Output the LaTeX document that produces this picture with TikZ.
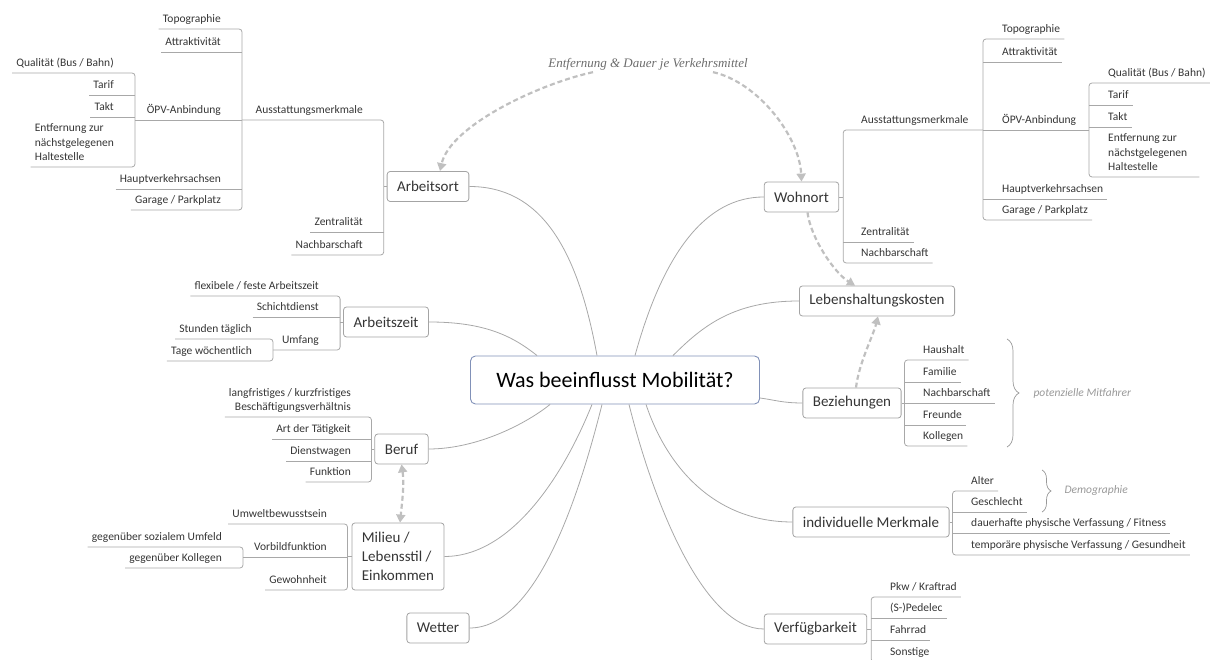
\documentclass[tikz,border=0pt]{standalone}
\usepackage{fontspec}
\setmainfont{Carlito}
\newfontfamily\notefont{Liberation Serif}
\usetikzlibrary{arrows.meta,decorations.pathreplacing}
\definecolor{linegray}{HTML}{A8A8A8}
\definecolor{boxgray}{HTML}{A4A4A4}
\definecolor{rootblue}{HTML}{8191B8}
\definecolor{relgray}{HTML}{C0C0C0}
\definecolor{notegray}{HTML}{999999}
\definecolor{textgray}{HTML}{353535}
\tikzset{
  root/.style={draw=rootblue, line width=0.9pt, rounded corners=5pt, fill=white,
    minimum width=289pt, minimum height=48pt, text=black,
    font=\fontsize{22}{26}\selectfont},
  topic/.style={draw=boxgray, line width=0.8pt, rounded corners=3pt, fill=white,
    inner xsep=10pt, minimum height=30pt, text=textgray,
    font=\fontsize{15}{19}\selectfont},
  sub/.style={inner xsep=4pt, inner ysep=0pt, text=textgray,
    font=\fontsize{11.5}{14.5}\selectfont},
  subR/.style={sub, anchor=south west, text height=9pt, text depth=6.5pt},
  subL/.style={sub, anchor=south east, text height=9pt, text depth=6.5pt},
  branch/.style={draw=linegray, line width=0.8pt, rounded corners=3pt},
  link/.style={draw=linegray, line width=0.8pt},
  relation/.style={draw=relgray, line width=2.2pt, dash pattern=on 5pt off 3pt,
    -{Triangle[length=8pt,width=9pt]}},
  note/.style={text=notegray, font=\fontsize{11.5}{14}\selectfont\itshape},
  braced/.style={draw=gray!80, line width=0.7pt, decorate,
    decoration={brace, amplitude=#1}},
}
\begin{document}
\begin{tikzpicture}[x=1pt, y=1pt]
	\useasboundingbox (0,0) rectangle (1215,660);
	\clip (0,0) rectangle (1215,660);
	\node[root] (root) at (615,280) {Was beeinflusst Mobilität?};
	\node[topic] (arbeitsort) at (428,473.5) {Arbeitsort};
	\node[topic] (wohnort) at (801.5,463) {Wohnort};
	\node[topic] (kosten) at (877,359) {Lebenshaltungskosten};
	\node[topic] (beziehungen) at (852,257) {Beziehungen};
	\node[topic] (merkmale) at (871,138) {individuelle Merkmale};
	\node[topic] (verfuegbar) at (815.5,31) {Verfügbarkeit};
	\node[topic] (arbeitszeit) at (386,338) {Arbeitszeit};
	\node[topic] (beruf) at (401.5,211) {Beruf};
	\node[topic, align=left, minimum height=67pt] (milieu) at (398,103.5) {Milieu /\\Lebensstil /\\Einkommen};
	\node[topic] (wetter) at (438,32) {Wetter};
	\draw[link] (arbeitsort.east) .. controls +(70,0) and +(-20,110) .. ([xshift=-18pt]root.north);
	\draw[link] (wohnort.west) .. controls +(-57,0) and +(29,105) .. ([xshift=20pt]root.north);
	\draw[link] (kosten.west) .. controls +(-65,0) and +(30,30) .. ([xshift=58pt]root.north);
	\draw[link] (arbeitszeit.east) .. controls +(55,0) and +(-25,20) .. ([xshift=-78pt]root.north);
	\draw[link] (beziehungen.west) .. controls +(-20,0) and +(15,-2) .. ([yshift=-18pt]root.east);
	\draw[link] (beruf.east) .. controls +(50,0) and +(-22,-18) .. ([xshift=-65pt]root.south);
	\draw[link] (milieu.east) .. controls +(65,0) and +(-30,-75) .. ([xshift=-23pt]root.south);
	\draw[link] (wetter.east) .. controls +(65,0) and +(-25,-100) .. ([xshift=-13pt]root.south);
	\draw[link] (verfuegbar.west) .. controls +(-60,0) and +(25,-100) .. ([xshift=14pt]root.south);
	\draw[link] (merkmale.west) .. controls +(-80,0) and +(20,-60) .. ([xshift=31pt]root.south);
	% Arbeitsort
	\coordinate (ortL1) at ([xshift=-3pt]arbeitsort.west);
	\coordinate (ortL2) at (242,0);
	\coordinate (ortL3) at (135,0);
	\node[subL] (ao-aus) at (367,540) {Ausstattungsmerkmale};
	\node[subL] (ao-zen) at (367,428) {Zentralität};
	\node[subL] (ao-nach) at (367,405) {Nachbarschaft};
	\node[subL] (ao-topo) at (225,631) {Topographie};
	\node[subL] (ao-attr) at (225,608) {Attraktivität};
	\node[subL] (ao-oepv) at (225,540) {ÖPV-Anbindung};
	\node[subL] (ao-haupt) at (225,471) {Hauptverkehrsachsen};
	\node[subL] (ao-garage) at (225,450) {Garage / Parkplatz};
	\node[subL] (ao-qual) at (118,587) {Qualität (Bus / Bahn)};
	\node[subL] (ao-tarif) at (118,565) {Tarif};
	\node[subL] (ao-takt) at (118,543) {Takt};
	\node[sub, anchor=south east, align=left, inner ysep=6pt] (ao-entf) at (118,493) {Entfernung zur\\nächstgelegenen\\Haltestelle};
	\draw[branch] (arbeitsort.west) -- (ortL1);
	\draw[branch] (ao-aus.south -| ortL2) -- (ao-aus.south -| ortL1) -- (ao-nach.south -| ortL1) -- (ao-nach.south west);
	\draw[branch] (ao-zen.south west) -- (ao-zen.south -| ortL1);
	\draw[branch] (ao-topo.south west) -- (ao-topo.south -| ortL2) -- (ao-garage.south -| ortL2) -- (ao-garage.south west);
	\draw[branch] (ao-attr.south west) -- (ao-attr.south -| ortL2);
	\draw[branch] (ao-oepv.south -| ortL3) -- (ao-oepv.south -| ortL2);
	\draw[branch] (ao-haupt.south west) -- (ao-haupt.south -| ortL2);
	\draw[branch] (ao-qual.south west) -- (ao-qual.south -| ortL3) -- (ao-entf.south -| ortL3) -- (ao-entf.south west);
	\draw[branch] (ao-tarif.south west) -- (ao-tarif.south -| ortL3);
	\draw[branch] (ao-takt.south west) -- (ao-takt.south -| ortL3);
	% Wohnort
	\coordinate (ortR1) at ([xshift=4pt]wohnort.east);
	\coordinate (ortR2) at (983,0);
	\coordinate (ortR3) at (1089,0);
	\node[subR] (wo-aus) at (857,530) {Ausstattungsmerkmale};
	\node[subR] (wo-zen) at (857,418) {Zentralität};
	\node[subR] (wo-nach) at (857,397) {Nachbarschaft};
	\node[subR] (wo-topo) at (998,621) {Topographie};
	\node[subR] (wo-attr) at (998,598) {Attraktivität};
	\node[subR] (wo-oepv) at (998,530) {ÖPV-Anbindung};
	\node[subR] (wo-haupt) at (998,461) {Hauptverkehrsachsen};
	\node[subR] (wo-garage) at (998,440) {Garage / Parkplatz};
	\node[subR] (wo-qual) at (1104,577) {Qualität (Bus / Bahn)};
	\node[subR] (wo-tarif) at (1104,555) {Tarif};
	\node[subR] (wo-takt) at (1104,533) {Takt};
	\node[sub, anchor=south west, align=left, inner ysep=6pt] (wo-entf) at (1104,483) {Entfernung zur\\nächstgelegenen\\Haltestelle};
	\draw[branch] (wohnort.east) -- (ortR1);
	\draw[branch] (wo-aus.south -| ortR2) -- (wo-aus.south -| ortR1) -- (wo-nach.south -| ortR1) -- (wo-nach.south east);
	\draw[branch] (wo-zen.south -| ortR1) -- (wo-zen.south east);
	\draw[branch] (wo-topo.south east) -- (wo-topo.south -| ortR2) -- (wo-garage.south -| ortR2) -- (wo-garage.south east);
	\draw[branch] (wo-attr.south -| ortR2) -- (wo-attr.south east);
	\draw[branch] (wo-oepv.south -| ortR2) -- (wo-oepv.south -| ortR3);
	\draw[branch] (wo-haupt.south -| ortR2) -- (wo-haupt.south east);
	\draw[branch] (wo-qual.south east) -- (wo-qual.south -| ortR3) -- (wo-entf.south -| ortR3) -- ([xshift=8pt]wo-entf.south east);
	\draw[branch] (wo-tarif.south -| ortR3) -- (wo-tarif.south east);
	\draw[branch] (wo-takt.south -| ortR3) -- (wo-takt.south east);
	% Beziehungen
	\coordinate (bzS) at ([xshift=3pt]beziehungen.east);
	\node[subR] (bz-haus) at (919,300) {Haushalt};
	\node[subR] (bz-fam) at (919,278) {Familie};
	\node[subR] (bz-nach) at (919,257) {Nachbarschaft};
	\node[subR] (bz-freu) at (919,235) {Freunde};
	\node[subR] (bz-koll) at (919,214) {Kollegen};
	\draw[branch] (beziehungen.east) -- (bzS);
	\draw[branch] (bz-haus.south east) -- (bz-haus.south -| bzS) -- (bz-koll.south -| bzS) -- (bz-koll.south east);
	\draw[branch] (bz-fam.south -| bzS) -- (bz-fam.south east);
	\draw[branch] (bz-nach.south -| bzS) -- (bz-nach.south east);
	\draw[branch] (bz-freu.south -| bzS) -- (bz-freu.south east);
	\draw[braced=12pt] (1007,321) -- (1007,213);
	\node[note, anchor=west] (mitfahrer) at (1030,267) {potenzielle Mitfahrer};
	% individuelle Merkmale
	\coordinate (imS) at ([xshift=3pt]merkmale.east);
	\node[subR] (im-alter) at (967,169) {Alter};
	\node[subR] (im-geschl) at (967,148) {Geschlecht};
	\node[subR] (im-dauer) at (967,127) {dauerhafte physische Verfassung / Fitness};
	\node[subR] (im-temp) at (967,105) {temporäre physische Verfassung / Gesundheit};
	\draw[branch] (merkmale.east) -- (imS);
	\draw[branch] (im-alter.south east) -- (im-alter.south -| imS) -- (im-temp.south -| imS) -- (im-temp.south east);
	\draw[branch] (im-geschl.south -| imS) -- (im-geschl.south east);
	\draw[branch] (im-dauer.south -| imS) -- (im-dauer.south east);
	\draw[braced=9pt] (1042,190) -- (1042,148);
	\node[note, anchor=west] (demographie) at (1061,170) {Demographie};
	% Verfuegbarkeit
	\coordinate (vfS) at ([xshift=4pt]verfuegbar.east);
	\node[subR] (vf-pkw) at (886,63) {Pkw / Kraftrad};
	\node[subR] (vf-ped) at (886,42) {(S-)Pedelec};
	\node[subR] (vf-rad) at (886,20) {Fahrrad};
	\node[subR] (vf-sonst) at (886,-2) {Sonstige};
	\draw[branch] (verfuegbar.east) -- (vfS);
	\draw[branch] (vf-pkw.south east) -- (vf-pkw.south -| vfS) -- (vf-sonst.south -| vfS) -- (vf-sonst.south east);
	\draw[branch] (vf-ped.south -| vfS) -- (vf-ped.south east);
	\draw[branch] (vf-rad.south -| vfS) -- (vf-rad.south east);
	% Arbeitszeit
	\coordinate (azS1) at ([xshift=-3pt]arbeitszeit.west);
	\coordinate (azS2) at (273,0);
	\node[subL] (az-flex) at (323,364) {flexibele / feste Arbeitszeit};
	\node[subL] (az-schicht) at (323,343) {Schichtdienst};
	\node[subL] (az-umfang) at (323,310) {Umfang};
	\node[subL] (az-std) at (256,321) {Stunden täglich};
	\node[subL] (az-tage) at (256,299) {Tage wöchentlich};
	\draw[branch] (arbeitszeit.west) -- (azS1);
	\draw[branch] (az-flex.south west) -- (az-flex.south -| azS1) -- (az-umfang.south -| azS1) -- (az-umfang.south -| azS2);
	\draw[branch] (az-schicht.south west) -- (az-schicht.south -| azS1);
	\draw[branch] (az-std.south west) -- (az-std.south -| azS2) -- (az-tage.south -| azS2) -- (az-tage.south west);
	% Beruf
	\coordinate (beS) at ([xshift=-3pt]beruf.west);
	\node[sub, anchor=south east, align=right, inner ysep=4pt] (be-lang) at (355,243) {langfristiges / kurzfristiges\\Beschäftigungsverhältnis};
	\node[subL] (be-art) at (355,221) {Art der Tätigkeit};
	\node[subL] (be-dienst) at (355,199) {Dienstwagen};
	\node[subL] (be-funk) at (355,178) {Funktion};
	\draw[branch] (beruf.west) -- (beS);
	\draw[branch] (be-lang.south west) -- (be-lang.south -| beS) -- (be-funk.south -| beS) -- (be-funk.south west);
	\draw[branch] (be-art.south west) -- (be-art.south -| beS);
	\draw[branch] (be-dienst.south west) -- (be-dienst.south -| beS);
	% Milieu
	\coordinate (miS1) at ([xshift=-4pt]milieu.west);
	\coordinate (miS2) at (243,0);
	\node[subL] (mi-umwelt) at (331,136) {Umweltbewusstsein};
	\node[subL] (mi-vorbild) at (331,103) {Vorbildfunktion};
	\node[subL] (mi-gewohn) at (331,70) {Gewohnheit};
	\node[subL] (mi-sozial) at (226,113) {gegenüber sozialem Umfeld};
	\node[subL] (mi-koll) at (226,92) {gegenüber Kollegen};
	\draw[branch] (milieu.west) -- (miS1);
	\draw[branch] (mi-umwelt.south west) -- (mi-umwelt.south -| miS1) -- (mi-gewohn.south -| miS1) -- (mi-gewohn.south west);
	\draw[branch] (mi-vorbild.south -| miS2) -- (mi-vorbild.south -| miS1);
	\draw[branch] (mi-sozial.south west) -- (mi-sozial.south -| miS2) -- (mi-koll.south -| miS2) -- (mi-koll.south west);
	% Beziehungen zwischen Themen
	\node[text=gray!85!black, inner sep=2pt, font=\notefont\fontsize{13}{16}\selectfont\itshape] (entf) at (648,596) {Entfernung \& Dauer je Verkehrsmittel};
	\draw[relation] ([xshift=-55pt]entf.south) .. controls +(-55,-12) and +(10,45) .. ([xshift=12pt]arbeitsort.north);
	\draw[relation] ([xshift=65pt]entf.south) .. controls +(45,-10) and +(-2,45) .. (wohnort.north);
	\draw[relation] ([xshift=6pt]wohnort.south) .. controls +(3,-25) and +(-21,13) .. ([xshift=-22pt]kosten.north);
	\draw[relation] ([xshift=4pt]beziehungen.north) .. controls +(3,25) and +(-5,-20) .. ([xshift=1pt]kosten.south);
	\draw[relation, {Triangle[length=8pt,width=9pt]}-{Triangle[length=8pt,width=9pt]}] (beruf.south) .. controls +(3,-20) and +(2,20) .. ([xshift=2pt]milieu.north);
\end{tikzpicture}
\end{document}
